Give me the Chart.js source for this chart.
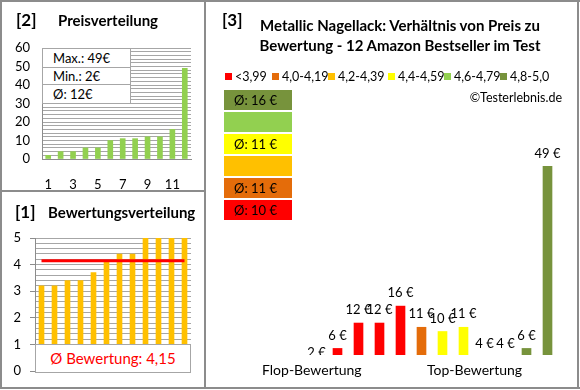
<!DOCTYPE html>
<html>
<head>
<meta charset="utf-8">
<script src="https://cdn.jsdelivr.net/npm/chart.js@4/dist/chart.umd.min.js"></script>
<style>
  html, body { margin:0; padding:0; background:#fff; }
  body { width:580px; height:390px; position:relative; overflow:hidden; font-family:'Lato','Liberation Sans',sans-serif; color:#000; }
  .abs { position:absolute; }
  canvas { position:absolute; }
  .ttl { position:absolute; font-weight:bold; white-space:nowrap; }
  .line { position:absolute; background:#8c8c8c; }
</style>
</head>
<body>
<script>
// ---------- data ----------
const priceCategories = ['1','2','3','4','5','6','7','8','9','10','11','12'];
const priceValues     = [2, 4, 4, 6, 6, 10, 11, 11, 12, 12, 16, 49];
const ratingValues    = [3.2, 3.2, 3.4, 3.4, 3.7, 4.1, 4.4, 4.4, 5.0, 5.0, 5.0, 5.0];
const ratingAverage   = 4.15;
const ratioPrices     = [2, 6, 12, 12, 16, 11, 10, 11, 4, 4, 6, 49];
const classLabels     = ['<3,99', '4,0-4,19', '4,2-4,39', '4,4-4,59', '4,6-4,79', '4,8-5,0'];
const classLower      = [0, 4.0, 4.2, 4.4, 4.6, 4.8];
const classColors     = ['#FF0000', '#E46C0A', '#FFC000', '#FFFF00', '#92D050', '#77933C'];
</script>

<div class="line" style="left:0;top:0;width:580px;height:2px"></div>
<div class="line" style="left:0;top:387px;width:580px;height:2px"></div>
<div class="line" style="left:0;top:0;width:2px;height:389px"></div>
<div class="line" style="left:577px;top:0;width:2px;height:389px"></div>
<div class="line" style="left:204px;top:0;width:2px;height:389px"></div>
<div class="line" style="left:0;top:190px;width:205px;height:2px"></div>

<canvas id="c1" width="205" height="191" style="left:0;top:0;width:205px;height:191px"></canvas>
<canvas id="c2" width="205" height="197" style="left:0;top:191px;width:205px;height:197px"></canvas>
<canvas id="c3" width="372" height="388" style="left:206px;top:0;width:372px;height:388px"></canvas>

<div class="ttl" style="left:16px;top:9px;font-size:17px">[2]</div>
<div class="ttl" style="left:58px;top:11px;font-size:15px">Preisverteilung</div>
<div class="ttl" style="left:15px;top:201px;font-size:17px">[1]</div>
<div class="ttl" style="left:48px;top:203px;font-size:15px">Bewertungsverteilung</div>
<div class="ttl" style="left:222px;top:9px;font-size:17px">[3]</div>
<div class="ttl" style="left:230px;top:15px;width:340px;text-align:center;font-size:15px;line-height:20px">Metallic Nagellack: Verhältnis von Preis zu<br>Bewertung - 12 Amazon Bestseller im Test</div>

<div id="stats" class="abs" style="left:42px;top:48px;width:87px;height:54px;background:#fff;border:1px solid #a6a6a6;font-size:13px"></div>
<div id="avgbox" class="abs" style="left:35px;top:344px;width:154px;height:27px;background:#fff;border:1px solid #a6a6a6;color:#FF0000;font-size:15px;text-align:center;line-height:27px"></div>
<div id="legend"></div>
<div id="classboxes"></div>
<div class="abs" style="left:440px;top:90px;width:122px;text-align:right;font-size:12.5px">©Testerlebnis.de</div>
<div class="abs" style="left:262px;top:361px;font-size:14px;">Flop-Bewertung</div>
<div class="abs" style="left:427px;top:361px;font-size:14px;">Top-Bewertung</div>

<script>
Chart.defaults.font.family = "'Lato','Liberation Sans',sans-serif";
Chart.defaults.color = '#000';
Chart.defaults.animation = false;

const gridGray = '#a6a6a6';
const fmt = n => Math.round(n);

// ---------- stats box ----------
const pMax = Math.max(...priceValues), pMin = Math.min(...priceValues);
const pAvg = priceValues.reduce((a,b)=>a+b,0) / priceValues.length;
const statRows = ['Max.: ' + pMax + '€', 'Min.: ' + pMin + '€', 'Ø: ' + fmt(pAvg) + '€'];
const rowH = [19, 17, 18];
document.getElementById('stats').innerHTML = statRows.map((t,i) =>
  `<div style="height:${rowH[i]}px;line-height:${rowH[i]}px;padding-left:10px;${i<2?'border-bottom:1px solid #a6a6a6;':''}box-sizing:border-box">${t}</div>`).join('');

document.getElementById('avgbox').textContent = 'Ø Bewertung: ' + ratingAverage.toFixed(2).replace('.', ',');

// ---------- legend ----------
const legX = [225, 272, 328, 388, 444, 500];
document.getElementById('legend').innerHTML = classLabels.map((l,i) =>
  `<div class="abs" style="left:${legX[i]}px;top:73px;width:7px;height:7px;background:${classColors[i]}"></div>` +
  `<div class="abs" style="left:${legX[i]+10}px;top:69px;font-size:12.5px;line-height:15px;white-space:nowrap">${l}</div>`).join('');

// ---------- class boxes ----------
function classOf(r){ let c = 0; for (let k=0;k<classLower.length;k++) if (r >= classLower[k] - 1e-9) c = k; return c; }
const barColors = ratingValues.map(r => classColors[classOf(r)]);
let boxes = '';
for (let k = classLabels.length - 1, row = 0; k >= 0; k--, row++) {
  const prices = ratioPrices.filter((p,i) => classOf(ratingValues[i]) === k);
  const txt = prices.length ? 'Ø: ' + fmt(prices.reduce((a,b)=>a+b,0)/prices.length) + ' €' : '';
  boxes += `<div class="abs" style="left:224px;top:${90+row*22}px;width:68px;height:20px;background:${classColors[k]};font-size:13px;line-height:20px;padding-left:10px;box-sizing:border-box">${txt}</div>`;
}
document.getElementById('classboxes').innerHTML = boxes;

// ---------- chart 1: Preisverteilung ----------
new Chart(document.getElementById('c1'), {
  type: 'bar',
  data: { labels: priceCategories, datasets: [{ data: priceValues, backgroundColor: '#92D050', barThickness: 5 }] },
  options: {
    responsive: false,
    layout: { padding: { left: 0, right: 14, top: 48, bottom: 0 } },
    plugins: { legend: { display: false }, tooltip: { enabled: false } },
    scales: {
      x: {
        grid: { display: false },
        border: { display: true, color: '#8c8c8c' },
        ticks: { autoSkip: false, maxRotation: 0, padding: 10, font: { size: 13 },
                 callback: (v, i) => (i % 2 === 0 ? priceCategories[i] : '') },
        afterFit: s => { s.height = 32; }
      },
      y: {
        min: 0, max: 60,
        grid: { color: gridGray, drawTicks: false },
        border: { display: true, color: '#8c8c8c' },
        ticks: { stepSize: 2, autoSkip: false, padding: 12, font: { size: 13 },
                 callback: v => (v % 10 === 0 ? v : '') },
        afterFit: s => { s.width = 42; }
      }
    }
  }
});

// ---------- chart 2: Bewertungsverteilung ----------
const isInt = v => Math.abs(v - Math.round(v)) < 1e-6;
new Chart(document.getElementById('c2'), {
  data: {
    labels: priceCategories,
    datasets: [
      { type: 'line', data: priceCategories.map(() => ratingAverage), borderColor: '#FF0000', borderWidth: 3, pointRadius: 0, order: 0 },
      { type: 'bar', data: ratingValues, backgroundColor: '#FFC000', barThickness: 5, order: 1 }
    ]
  },
  options: {
    responsive: false,
    layout: { padding: { left: 0, right: 14, top: 47, bottom: 16 } },
    plugins: { legend: { display: false }, tooltip: { enabled: false } },
    scales: {
      x: { display: false },
      y: {
        min: 0, max: 5,
        grid: { color: gridGray, tickLength: 5,
                tickColor: c => (isInt(c.tick.value) ? '#8c8c8c' : 'rgba(0,0,0,0)') },
        border: { display: true, color: '#8c8c8c' },
        ticks: { stepSize: 0.2, autoSkip: false, padding: 9, font: { size: 13 },
                 callback: v => (isInt(v) ? Math.round(v) : '') },
        afterFit: s => { s.width = 35; }
      }
    }
  }
});

// ---------- chart 3: Preis zu Bewertung ----------
const valueLabels = {
  id: 'valueLabels',
  afterDatasetsDraw(chart) {
    const ctx = chart.ctx, area = chart.chartArea, ys = chart.scales.y;
    const meta = chart.getDatasetMeta(0);
    ctx.save();
    ctx.beginPath();
    ctx.rect(0, 0, chart.width, area.bottom);
    ctx.clip();
    ctx.font = "13px 'Lato','Liberation Sans',sans-serif";
    ctx.fillStyle = '#000';
    ctx.textAlign = 'center';
    ctx.textBaseline = 'middle';
    meta.data.forEach((bar, i) => {
      const v = chart.data.datasets[0].data[i];
      ctx.fillText(v + ' €', bar.x, ys.getPixelForValue(v) - 13);
    });
    ctx.restore();
  }
};
new Chart(document.getElementById('c3'), {
  type: 'bar',
  data: { labels: priceCategories, datasets: [{ data: ratioPrices, backgroundColor: barColors, barThickness: 9 }] },
  options: {
    responsive: false,
    layout: { padding: { left: 100, right: 20, top: 141, bottom: 33 } },
    plugins: { legend: { display: false }, tooltip: { enabled: false } },
    scales: {
      x: { display: false, offset: true },
      y: { display: false, min: 4.45, max: 55 }
    }
  },
  plugins: [valueLabels]
});
</script>
</body>
</html>
